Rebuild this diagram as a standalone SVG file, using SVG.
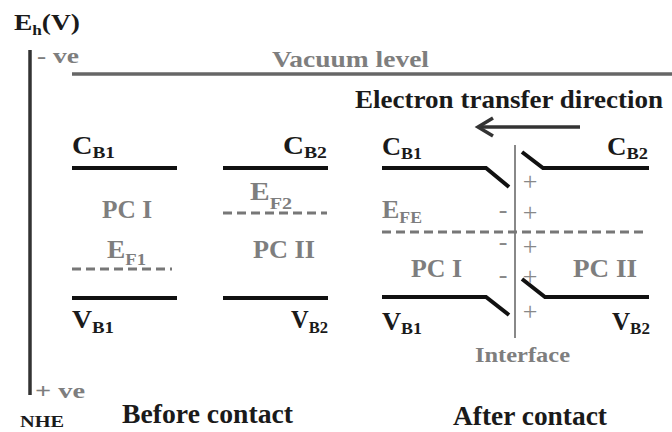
<svg xmlns="http://www.w3.org/2000/svg" width="672" height="432" viewBox="0 0 672 432" font-family="'Liberation Serif', Tinos, 'DejaVu Serif', serif">
<style>
text{font-family:'Liberation Serif', Tinos, 'DejaVu Serif', serif;font-weight:bold}
.dk{fill:#1a1a1a}
.gr{fill:#7e7e7e}
.lbl{font-size:25px}
.sub{font-size:17px}
.pc{font-size:25px;fill:#7e7e7e}
.band{stroke:#111;stroke-width:4;fill:none}
.fermi{stroke:#777;stroke-width:3;stroke-dasharray:9,5;fill:none}
.sign{font-size:26px;fill:#888;font-weight:normal;text-anchor:middle}
</style>
<rect width="672" height="432" fill="#fff"/>
<g id="axis">
<text x="14" y="30" class="dk" font-size="24" textLength="66" lengthAdjust="spacingAndGlyphs">E<tspan font-size="15" dy="5">h</tspan><tspan dy="-5">(V)</tspan></text>
<line x1="30" y1="50" x2="30" y2="395" stroke="#333" stroke-width="3.5"/>
<text x="37" y="63" class="gr" font-size="22" textLength="42" lengthAdjust="spacingAndGlyphs">- ve</text>
<text x="35" y="398" class="gr" font-size="22" textLength="50" lengthAdjust="spacingAndGlyphs">+ ve</text>
<text x="20" y="427" class="dk" font-size="17" textLength="44" lengthAdjust="spacingAndGlyphs">NHE</text>
</g>
<g id="vacuum">
<line x1="72" y1="74" x2="672" y2="74" stroke="#666" stroke-width="3.5"/>
<text x="272" y="67" class="gr" font-size="23" textLength="157" lengthAdjust="spacingAndGlyphs">Vacuum level</text>
</g>
<g id="before">
<line class="band" x1="72" y1="168" x2="177" y2="168"/>
<line class="band" x1="223" y1="168" x2="328" y2="168"/>
<line class="band" x1="72" y1="298" x2="177" y2="298"/>
<line class="band" x1="223" y1="298" x2="328" y2="298"/>
<line class="fermi" x1="72" y1="269" x2="172" y2="269"/>
<line class="fermi" x1="223" y1="213" x2="327" y2="213"/>
<text x="72" y="154" class="dk lbl" textLength="43" lengthAdjust="spacingAndGlyphs">C<tspan class="sub" dy="4">B1</tspan></text>
<text x="283" y="154" class="dk lbl" textLength="44" lengthAdjust="spacingAndGlyphs">C<tspan class="sub" dy="4">B2</tspan></text>
<text x="72" y="328" class="dk lbl" textLength="42" lengthAdjust="spacingAndGlyphs">V<tspan class="sub" dy="5">B1</tspan></text>
<text x="291" y="328" class="dk lbl" textLength="37" lengthAdjust="spacingAndGlyphs">V<tspan class="sub" dy="5">B2</tspan></text>
<text x="102" y="218" class="pc" textLength="50" lengthAdjust="spacingAndGlyphs">PC I</text>
<text x="253" y="258" class="pc" textLength="62" lengthAdjust="spacingAndGlyphs">PC II</text>
<text x="250" y="200" class="gr lbl" textLength="42" lengthAdjust="spacingAndGlyphs">E<tspan class="sub" dy="9">F2</tspan></text>
<text x="107" y="258" class="gr lbl" textLength="39" lengthAdjust="spacingAndGlyphs">E<tspan class="sub" dy="7">F1</tspan></text>
<text x="122" y="423" class="dk" font-size="27" textLength="171" lengthAdjust="spacingAndGlyphs">Before contact</text>
</g>
<g id="after">
<line x1="515" y1="145" x2="515" y2="338" stroke="#888" stroke-width="2"/>
<path class="band" d="M382,168 H486 L509,187"/>
<path class="band" d="M522,152 L543,168 H649"/>
<path class="band" d="M382,297 H486 L509,315"/>
<path class="band" d="M522,279 L545,297 H649"/>
<line class="fermi" x1="382" y1="232" x2="645" y2="232"/>
<text x="382" y="155" class="dk lbl" textLength="40" lengthAdjust="spacingAndGlyphs">C<tspan class="sub" dy="4">B1</tspan></text>
<text x="607" y="155" class="dk lbl" textLength="41" lengthAdjust="spacingAndGlyphs">C<tspan class="sub" dy="4">B2</tspan></text>
<text x="382" y="330" class="dk lbl" textLength="40" lengthAdjust="spacingAndGlyphs">V<tspan class="sub" dy="4">B1</tspan></text>
<text x="612" y="330" class="dk lbl" textLength="38" lengthAdjust="spacingAndGlyphs">V<tspan class="sub" dy="4">B2</tspan></text>
<text x="382" y="218" class="gr lbl" textLength="40" lengthAdjust="spacingAndGlyphs">E<tspan class="sub" dy="5">FE</tspan></text>
<text x="411" y="277" class="pc" textLength="51" lengthAdjust="spacingAndGlyphs">PC I</text>
<text x="573" y="277" class="pc" textLength="64" lengthAdjust="spacingAndGlyphs">PC II</text>
<text x="530" y="190" class="sign">+</text>
<text x="530" y="221" class="sign">+</text>
<text x="530" y="255" class="sign">+</text>
<text x="530" y="285" class="sign">+</text>
<text x="530" y="320" class="sign">+</text>
<text x="503" y="218" class="sign">-</text>
<text x="503" y="250" class="sign">-</text>
<text x="503" y="283" class="sign">-</text>
<text x="475" y="362" class="gr" font-size="22" textLength="95" lengthAdjust="spacingAndGlyphs">Interface</text>
<text x="453" y="425" class="dk" font-size="27" textLength="154" lengthAdjust="spacingAndGlyphs">After contact</text>
</g>
<g id="transfer">
<text x="355" y="108" class="dk" font-size="26" textLength="308" lengthAdjust="spacingAndGlyphs">Electron transfer direction</text>
<line x1="580" y1="127" x2="479" y2="127" stroke="#333" stroke-width="3.5"/>
<path d="M493,118 L478,127 L493,136" fill="none" stroke="#333" stroke-width="3.5"/>
</g>
</svg>
